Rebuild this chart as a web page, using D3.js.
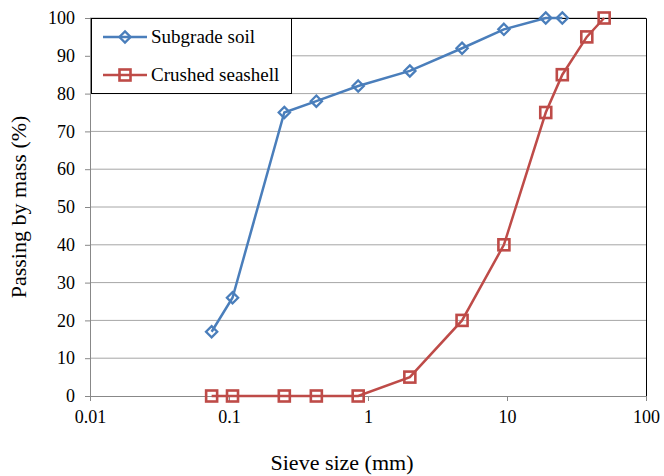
<!DOCTYPE html>
<html>
<head>
<meta charset="utf-8">
<script src="https://cdn.jsdelivr.net/npm/d3@7"></script>
<style>
  body { margin: 0; background: #fff; }
  text { font-family: "Liberation Serif", "Times New Roman", serif; fill: #000; }
</style>
</head>
<body>
<script>
// sieve sizes (mm) and passing (%)
var soilSize = [0.075, 0.106, 0.25, 0.425, 0.85, 2, 4.75, 9.5, 19, 25]
var soilPass = [17, 26, 75, 78, 82, 86, 92, 97, 100, 100]
var shellSize = [0.075, 0.106, 0.25, 0.425, 0.85, 2, 4.75, 9.5, 19, 25, 37.5, 50]
var shellPass = [0, 0, 0, 0, 0, 5, 20, 40, 75, 85, 95, 100]
var xTicks = [0.01, 0.1, 1, 10, 100]
var yTicks = [0, 10, 20, 30, 40, 50, 60, 70, 80, 90, 100]
var seriesNames = ["Subgrade soil", "Crushed seashell"]

var width = 664
var height = 476
// plot box (window.top is taken, so prefix these)
var pLeft = 90, pRight = 646, pTop = 18, pBottom = 396

var svg = d3.select("body").append("svg")
    .attr("width", width)
    .attr("height", height)

var x = d3.scaleLog().domain([0.01, 100]).range([pLeft, pRight])
var y = d3.scaleLinear().domain([0, 100]).range([pBottom, pTop])

// horizontal gridlines
svg.append("g")
    .selectAll("line")
    .data(yTicks.slice(1))
    .enter()
    .append("line")
    .attr("x1", pLeft).attr("x2", pRight)
    .attr("y1", function(d) { return y(d) })
    .attr("y2", function(d) { return y(d) })
    .attr("stroke", "#a6a6a6")
    .attr("stroke-width", 1)

// top and right border (black)
svg.append("path")
    .attr("d", "M" + pLeft + "," + (pTop + 0.5) + "H" + (pRight + 0.5) + "V" + pBottom)
    .attr("fill", "none")
    .attr("stroke", "#000")

// y axis
var yAxis = svg.append("g")
    .attr("transform", "translate(" + pLeft + ",0)")
    .call(d3.axisLeft(y).tickValues(yTicks).tickSize(5).tickPadding(10))
yAxis.select(".domain").attr("stroke", "#888")
yAxis.selectAll(".tick line").attr("stroke", "#888")
yAxis.selectAll("text").style("font-size", "18px").style("font-family", "Liberation Serif")

// x axis
var xAxis = svg.append("g")
    .attr("transform", "translate(0," + pBottom + ")")
    .call(d3.axisBottom(x).tickValues(xTicks).tickFormat(function(d) { return String(d) }).tickSize(5).tickPadding(9))
xAxis.select(".domain").attr("stroke", "#888")
xAxis.selectAll(".tick line").attr("stroke", "#888")
xAxis.selectAll("text").style("font-size", "18px").style("font-family", "Liberation Serif")

// axis titles
svg.append("text")
    .attr("x", 342)
    .attr("y", 470)
    .attr("text-anchor", "middle")
    .style("font-size", "22px")
    .text("Sieve size (mm)")

svg.append("text")
    .attr("transform", "translate(26," + ((pTop + pBottom) / 2) + ") rotate(-90)")
    .attr("text-anchor", "middle")
    .style("font-size", "22px")
    .text("Passing by mass (%)")

var blue = "#4a7ebb"
var red = "#be4b48"

var line = d3.line()
    .x(function(d) { return x(d[0]) })
    .y(function(d) { return y(d[1]) })

var soil = d3.zip(soilSize, soilPass)
var shell = d3.zip(shellSize, shellPass)

svg.append("path")
    .attr("d", line(soil))
    .attr("fill", "none")
    .attr("stroke", blue)
    .attr("stroke-width", 2.5)

svg.append("path")
    .attr("d", line(shell))
    .attr("fill", "none")
    .attr("stroke", red)
    .attr("stroke-width", 2.5)

var diamond = d3.symbol().type(d3.symbolDiamond2).size(80)

svg.selectAll(".soil")
    .data(soil)
    .enter()
    .append("path")
    .attr("class", "soil")
    .attr("d", diamond)
    .attr("transform", function(d) { return "translate(" + x(d[0]) + "," + y(d[1]) + ")" })
    .attr("fill", "none")
    .attr("stroke", blue)
    .attr("stroke-width", 2.3)

svg.selectAll(".shell")
    .data(shell)
    .enter()
    .append("rect")
    .attr("class", "shell")
    .attr("x", function(d) { return x(d[0]) - 5.5 })
    .attr("y", function(d) { return y(d[1]) - 5.5 })
    .attr("width", 11)
    .attr("height", 11)
    .attr("fill", "none")
    .attr("stroke", red)
    .attr("stroke-width", 2.6)

// legend
var legend = svg.append("g")
legend.append("rect")
    .attr("x", 91.5).attr("y", 18.5)
    .attr("width", 200).attr("height", 75)
    .attr("fill", "#fff")
    .attr("stroke", "#000")

var colors = [blue, red]
seriesNames.forEach(function(name, i) {
    var ly = 37 + i * 38
    legend.append("line")
        .attr("x1", 103).attr("x2", 147)
        .attr("y1", ly).attr("y2", ly)
        .attr("stroke", colors[i])
        .attr("stroke-width", 2.5)
    if (i == 0) {
        legend.append("path")
            .attr("d", diamond)
            .attr("transform", "translate(125," + ly + ")")
            .attr("fill", "none")
            .attr("stroke", blue)
            .attr("stroke-width", 2.3)
    } else {
        legend.append("rect")
            .attr("x", 119.5).attr("y", ly - 5.5)
            .attr("width", 11).attr("height", 11)
            .attr("fill", "none")
            .attr("stroke", red)
            .attr("stroke-width", 2.6)
    }
    legend.append("text")
        .attr("x", 151)
        .attr("y", ly + 6)
        .style("font-size", "19px")
        .text(name)
})
</script>
</body>
</html>
